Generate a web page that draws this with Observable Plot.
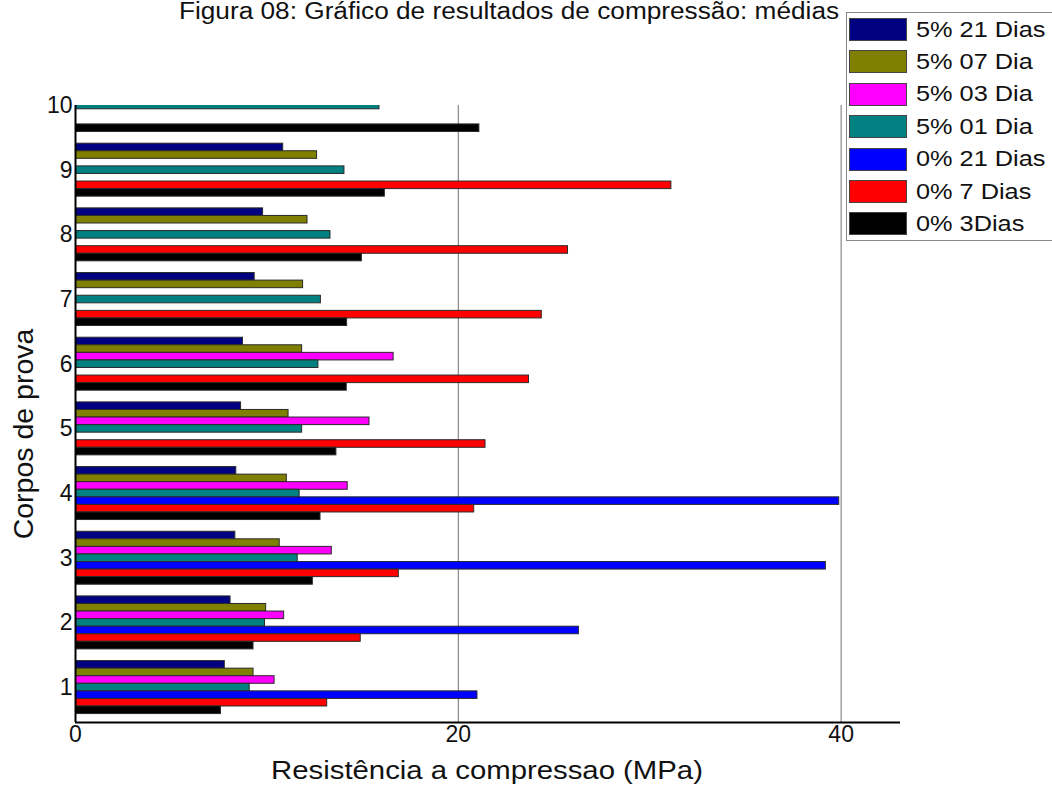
<!DOCTYPE html>
<html>
<head>
<meta charset="utf-8">
<script src="https://cdn.jsdelivr.net/npm/d3@7"></script>
<script src="https://cdn.jsdelivr.net/npm/@observablehq/plot@0.6"></script>
<style>
  html, body { margin: 0; padding: 0; background: #fff; }
  body { width: 1052px; height: 785px; overflow: hidden; position: relative; font-family: Arial, "Liberation Sans", sans-serif; }
  #chart { position: absolute; left: 0; top: 0; }
  .title { position: absolute; left: 0; width: 1018px; top: 0px; line-height: 23px; text-align: center; font-size: 23px; color: #111; white-space: nowrap; transform: scaleX(1.14); transform-origin: 509px 50%; }
  .xlabel { position: absolute; left: 0; width: 974px; top: 758px; line-height: 25.5px; text-align: center; font-size: 25.5px; color: #111; white-space: nowrap; transform: scaleX(1.15); transform-origin: 487px 50%; }
  .ylabel { position: absolute; left: 23px; top: 434px; transform: translate(-50%, -50%) rotate(-90deg); font-size: 28.5px; line-height: 28.5px; color: #111; white-space: nowrap; }
  .legend { position: absolute; left: 846px; top: 12px; width: 230px; height: 229px; border: 1px solid #888; box-sizing: border-box; background: #fff; }
  .legend .row { position: absolute; left: 2px; height: 23px; display: flex; align-items: center; }
  .legend .sw { width: 58px; height: 23px; border: 1px solid #444; box-sizing: border-box; margin-right: 9px; flex: none; }
  .legend .lb { font-size: 22px; color: #111; white-space: nowrap; display: inline-block; transform: scaleX(1.15); transform-origin: 0 50%; }
</style>
</head>
<body>
<div id="chart"></div>
<script>
// ---- data ----
const corpos = [1, 2, 3, 4, 5, 6, 7, 8, 9, 10];
const series = ["5% 21 Dias", "5% 07 Dia", "5% 03 Dia", "5% 01 Dia", "0% 21 Dias", "0% 7 Dias", "0% 3Dias"];
const seriesColors = ["#000080", "#808000", "#ff00ff", "#008080", "#0000ff", "#ff0000", "#000000"];
const v5_21 = [7.8, 8.1, 8.35, 8.4, 8.65, 8.75, 9.36, 9.8, 10.85, null];
const v5_07 = [9.3, 9.96, 10.67, 11.04, 11.13, 11.84, 11.89, 12.12, 12.62, null];
const v5_03 = [10.4, 10.9, 13.39, 14.22, 15.36, 16.62, null, null, null, null];
const v5_01 = [9.1, 9.9, 11.61, 11.71, 11.84, 12.69, 12.82, 13.32, 14.05, 15.88];
const v0_21 = [21.0, 26.3, 39.2, 39.9, null, null, null, null, null, null];
const v0_07 = [13.15, 14.9, 16.89, 20.83, 21.42, 23.69, 24.36, 25.73, 31.13, null];
const v0_03 = [7.6, 9.3, 12.4, 12.8, 13.63, 14.17, 14.19, 14.96, 16.16, 21.1];
const xTicks = [0, 20, 40];
const titleText = "Figura 08: Gráfico de resultados de compressão: médias";
const xTitle = "Resistência a compressao (MPa)";
const yTitle = "Corpos de prova";

// ---- build table ----
const allValues = [v5_21, v5_07, v5_03, v5_01, v0_21, v0_07, v0_03];
const rows = [];
allValues.forEach((arr, si) => {
  arr.forEach((v, ci) => {
    if (v != null) rows.push({corpo: corpos[ci], serie: series[si], si, value: v});
  });
});

const pitch = 0.117;            // bar thickness in category units
const center = 3;               // the 4th series sits on the category tick
const off = d => (center - d.si) * pitch;

const font = 'Arial, "Liberation Sans", sans-serif';

const chart = Plot.plot({
  width: 1052,
  height: 785,
  marginLeft: 75,
  marginRight: 152,
  marginTop: 105,
  marginBottom: 63,
  style: {fontFamily: font, fontSize: "23px", color: "#111", background: "transparent", overflow: "visible"},
  x: {domain: [0, 43.1], ticks: xTicks, tickSize: 0, tickPadding: 3, label: null, tickFormat: d => String(d)},
  y: {domain: [0.46, 10.0], ticks: corpos, tickSize: 0, tickPadding: 3, label: null, tickFormat: d => String(d)},
  color: {domain: series, range: seriesColors},
  marks: [
    Plot.ruleX([20, 40], {stroke: "#888", strokeWidth: 1.2}),
    Plot.rectX(rows, {
      x1: 0,
      x2: "value",
      y1: d => d.corpo + off(d) - pitch / 2,
      y2: d => d.corpo + off(d) + pitch / 2,
      fill: "serie",
      stroke: "#2a2a2a",
      strokeWidth: 1,
      clip: true
    }),
    Plot.ruleX([0], {stroke: "#000", strokeWidth: 2}),
    Plot.ruleY([0.46], {stroke: "#000", strokeWidth: 2})
  ]
});
document.getElementById("chart").appendChild(chart);

// ---- texts ----
function addDiv(cls, text) {
  const d = document.createElement("div");
  d.className = cls;
  d.textContent = text;
  document.body.appendChild(d);
  return d;
}
addDiv("title", titleText);
addDiv("xlabel", xTitle);
addDiv("ylabel", yTitle);

// ---- legend ----
const legend = document.createElement("div");
legend.className = "legend";
series.forEach((s, i) => {
  const row = document.createElement("div");
  row.className = "row";
  row.style.top = (5 + i * 32.4) + "px";
  const sw = document.createElement("div");
  sw.className = "sw";
  sw.style.background = seriesColors[i];
  const lb = document.createElement("span");
  lb.className = "lb";
  lb.textContent = s;
  row.appendChild(sw);
  row.appendChild(lb);
  legend.appendChild(row);
});
document.body.appendChild(legend);
</script>
</body>
</html>
